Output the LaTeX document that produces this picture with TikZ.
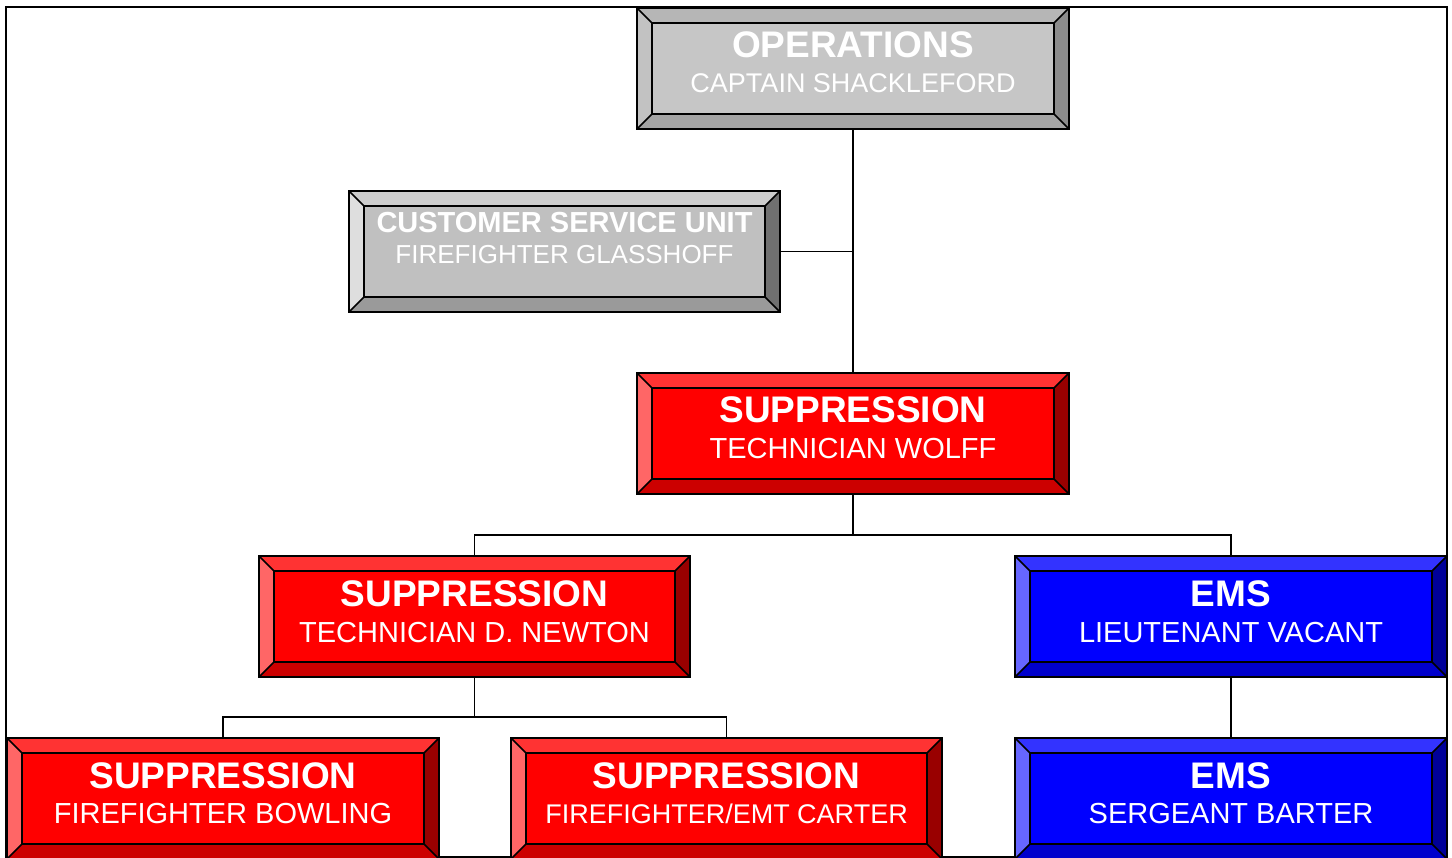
\documentclass[tikz,border=0pt]{standalone}
\usepackage{fontspec}
\setmainfont{Liberation Sans}
\usetikzlibrary{calc}
\newcommand\bevtext[6]{\makebox[0pt]{\raisebox{#3pt}[0pt][0pt]{\fontsize{#5}{#5}\selectfont\bfseries #1}}\makebox[0pt]{\raisebox{#4pt}[0pt][0pt]{\fontsize{#6}{#6}\selectfont #2}}}
\newcommand\bevelize[5]{%
  \fill[#2] (#1.north west) -- (#1.north east) -- ($(#1.north east)+(-15,15)$) -- ($(#1.north west)+(15,15)$) -- cycle;
  \fill[#3] (#1.north west) -- (#1.south west) -- ($(#1.south west)+(15,-15)$) -- ($(#1.north west)+(15,15)$) -- cycle;
  \fill[#4] (#1.north east) -- (#1.south east) -- ($(#1.south east)+(-15,-15)$) -- ($(#1.north east)+(-15,15)$) -- cycle;
  \fill[#5] (#1.south west) -- (#1.south east) -- ($(#1.south east)+(-15,-15)$) -- ($(#1.south west)+(15,-15)$) -- cycle;
  \draw[bevline] ($(#1.north west)+(15,15)$) rectangle ($(#1.south east)+(-15,-15)$);
  \draw[bevline] (#1.north west) -- ($(#1.north west)+(15,15)$);
  \draw[bevline] (#1.north east) -- ($(#1.north east)+(-15,15)$);
  \draw[bevline] (#1.south west) -- ($(#1.south west)+(15,-15)$);
  \draw[bevline] (#1.south east) -- ($(#1.south east)+(-15,-15)$);
  \draw[line width=2pt] (#1.north west) rectangle (#1.south east);
}
\definecolor{opsface}{HTML}{C6C6C6}
\definecolor{opstop}{HTML}{B6B6B6}
\definecolor{opsleft}{HTML}{C2C2C2}
\definecolor{opsright}{HTML}{8C8C8C}
\definecolor{opsbot}{HTML}{A4A4A4}
\definecolor{gface}{HTML}{C0C0C0}
\definecolor{gtop}{HTML}{CDCDCD}
\definecolor{gleft}{HTML}{DEDEDE}
\definecolor{gright}{HTML}{707070}
\definecolor{gbot}{HTML}{9A9A9A}
\definecolor{rface}{HTML}{FF0000}
\definecolor{rtop}{HTML}{FF3333}
\definecolor{rleft}{HTML}{FF6666}
\definecolor{rright}{HTML}{990000}
\definecolor{rbot}{HTML}{CC0000}
\definecolor{bface}{HTML}{0000FF}
\definecolor{btop}{HTML}{3333FF}
\definecolor{bleft}{HTML}{6666FF}
\definecolor{bright}{HTML}{000099}
\definecolor{bbot}{HTML}{0000CC}
\begin{document}
\begin{tikzpicture}[x=1pt,y=-1pt,
  box/.style={rectangle,draw,line width=2pt,outer sep=0pt,inner sep=0pt,
    minimum width=432pt,minimum height=121pt,text=white},
  bevline/.style={line width=1.5pt},
  conn/.style={line width=1.8pt}]
\useasboundingbox (0,0) rectangle (1452,858);
\fill[white] (0,0) rectangle (1452,858);
\draw[line width=1.5pt] (6,7) rectangle (1447,857);
% nodes
\node[box,fill=opsface] (ops) at (853,68.5) {\bevtext{OPERATIONS}{CAPTAIN SHACKLEFORD}{11}{-24.5}{37}{27}};
\node[box,fill=gface,minimum width=431pt] (csu) at (564.5,251.5) {\bevtext{CUSTOMER SERVICE UNIT}{FIREFIGHTER GLASSHOFF}{18.5}{-12.5}{29}{26}};
\node[box,fill=rface] (sup) at (853,433.5) {\bevtext{SUPPRESSION}{TECHNICIAN WOLFF}{10.5}{-25.5}{37}{29}};
\node[box,fill=rface,minimum width=431pt] (newton) at (474.5,616.5) {\bevtext{SUPPRESSION}{TECHNICIAN D. NEWTON}{10.5}{-25.5}{37}{29}};
\node[box,fill=bface] (ems1) at (1231,616.5) {\bevtext{EMS}{LIEUTENANT VACANT}{10.5}{-25.5}{37}{29}};
\node[box,fill=rface] (bowl) at (223,798.5) {\bevtext{SUPPRESSION}{FIREFIGHTER BOWLING}{10}{-25}{37}{29}};
\node[box,fill=rface,minimum width=431pt] (carter) at (726.5,798.5) {\bevtext{SUPPRESSION}{FIREFIGHTER/EMT CARTER}{10}{-25}{37}{27}};
\node[box,fill=bface] (ems2) at (1231,798.5) {\bevtext{EMS}{SERGEANT BARTER}{10}{-25}{37}{29}};
% bevels
\bevelize{ops}{opstop}{opsleft}{opsright}{opsbot}
\bevelize{csu}{gtop}{gleft}{gright}{gbot}
\bevelize{sup}{rtop}{rleft}{rright}{rbot}
\bevelize{newton}{rtop}{rleft}{rright}{rbot}
\bevelize{ems1}{btop}{bleft}{bright}{bbot}
\bevelize{bowl}{rtop}{rleft}{rright}{rbot}
\bevelize{carter}{rtop}{rleft}{rright}{rbot}
\bevelize{ems2}{btop}{bleft}{bright}{bbot}
% connectors
\draw[conn] (ops.south) -- (sup.north);
\draw[conn] (csu.east) -- (csu.east -| ops.south);
\draw[conn] (sup.south) -- ++(0,41) -| (newton.north);
\draw[conn] (sup.south) ++(0,41) -| (ems1.north);
\draw[conn] (newton.south) -- ++(0,40) -| (bowl.north);
\draw[conn] (newton.south) ++(0,40) -| (carter.north);
\draw[conn] (ems1.south) -- (ems2.north);
\end{tikzpicture}
\end{document}
